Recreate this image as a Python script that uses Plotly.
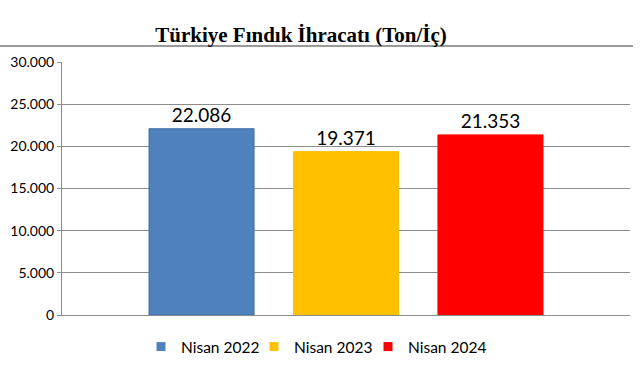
import plotly.graph_objects as go

series_names = ["Nisan 2022", "Nisan 2023", "Nisan 2024"]
series_values = [22086, 19371, 21353]
bar_colors = ["#4f81bd", "#ffc000", "#ff0000"]
edge_colors = ["#3d6da6", "#ffc000", "#ff0000"]
y_ticks = [0, 5000, 10000, 15000, 20000, 25000, 30000]
title_text = "<b>Türkiye Fındık İhracatı (Ton/İç)</b>"

W, H = 641, 380
L, R, T, B = 62, 11, 62, 65
pw, ph = W - L - R, H - T - B
FONT = "Lato, Carlito, sans-serif"
legend_ids = ["legend", "legend2", "legend3"]
legend_text_x = [181, 294, 408]

fig = go.Figure()
for name, val, col, ec in zip(series_names, series_values, bar_colors, edge_colors):
    fig.add_trace(go.Bar(
        x=[""], y=[val], name=name, showlegend=False,
        marker=dict(color=col, line=dict(color=ec, width=1)),
        text=[val], texttemplate="%{y:,.0f}", textposition="outside",
        textfont=dict(family=FONT, size=19, color="#000"),
        cliponaxis=False,
    ))
# legend entries with small square swatches, one legend box each
for name, col, lid in zip(series_names, bar_colors, legend_ids):
    fig.add_trace(go.Scatter(
        x=[None], y=[None], name=name, mode="markers", legend=lid,
        marker=dict(symbol="square", size=9, color=col),
    ))

legend_layout = {}
for lid, tx in zip(legend_ids, legend_text_x):
    legend_layout[lid] = dict(
        orientation="h", x=(tx - 40 - L) / pw, xanchor="left",
        y=(T + ph - 347) / ph, yanchor="middle",
        font=dict(family=FONT, size=15.5, color="#000"),
        bgcolor="rgba(0,0,0,0)",
    )

fig.update_layout(
    width=W, height=H,
    margin=dict(l=L, r=R, t=T, b=B),
    paper_bgcolor="white", plot_bgcolor="white",
    separators=",.",
    barmode="group", bargap=0.237, bargroupgap=0.273,
    title=dict(text=title_text, x=301 / W, xanchor="center", xref="container",
               y=1 - 35 / H, yanchor="middle", yref="container",
               font=dict(family="Liberation Serif, Times New Roman, serif", size=21, color="#000")),
    showlegend=True,
    shapes=[dict(type="line", xref="paper", yref="paper",
                 x0=(0 - L) / pw, x1=(633 - L) / pw,
                 y0=(T + ph - 46) / ph, y1=(T + ph - 46) / ph,
                 line=dict(color="#9a9a9a", width=2))],
    **legend_layout,
)

fig.update_yaxes(range=[0, 30000], tickvals=y_ticks, tickformat=",.0f",
                 showgrid=True, gridcolor="#8c8c8c", gridwidth=1,
                 showline=True, linecolor="#8c8c8c", linewidth=1,
                 ticks="outside", ticklen=4, tickcolor="#8c8c8c",
                 zeroline=False,
                 tickfont=dict(family=FONT, size=14, color="#000"))
fig.update_xaxes(showticklabels=False, showline=True, linecolor="#8c8c8c",
                 linewidth=1, showgrid=False, ticks="")

fig.write_html("out.html", config={"displayModeBar": False},
               post_script="document.body.style.margin='0';document.body.style.padding='0';")
